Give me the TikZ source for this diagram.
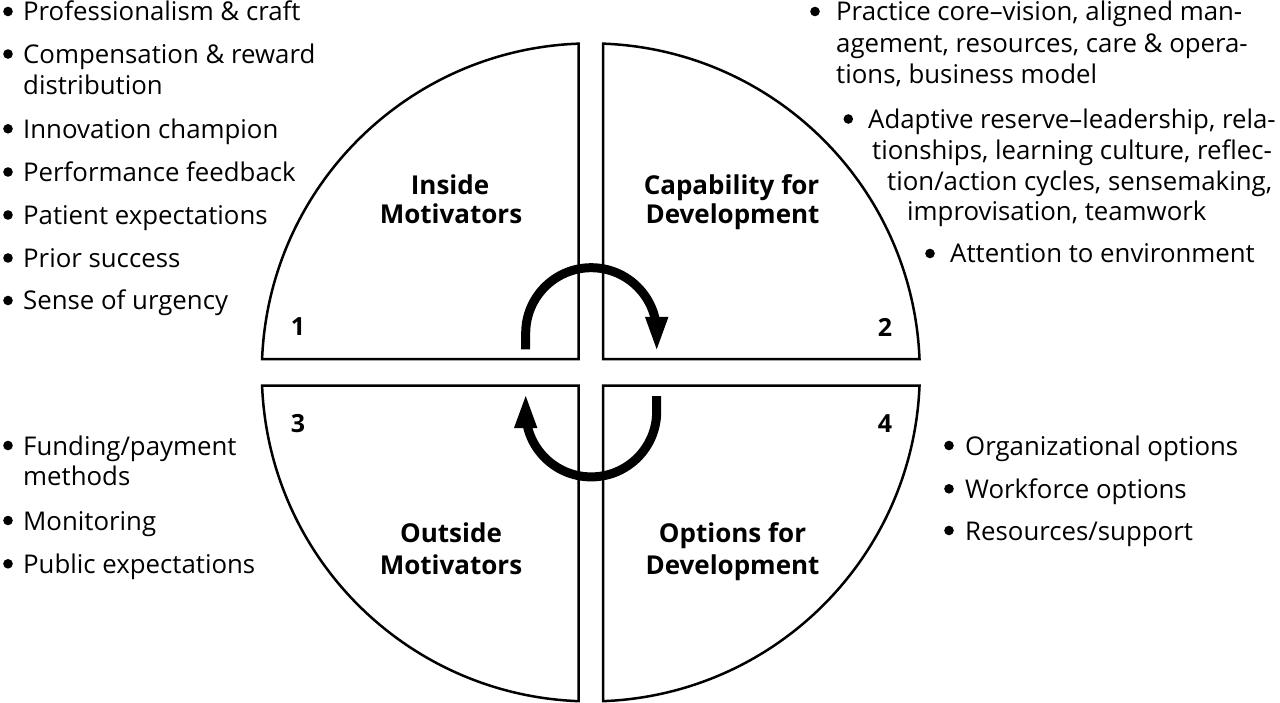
\documentclass[tikz,border=0pt]{standalone}
\usepackage{fontspec}
\setmainfont{Open Sans}
\begin{document}
\begin{tikzpicture}[x=1pt,y=-1pt,
  quad/.style={line width=2.5pt, line join=miter},
  item/.style={anchor=base west, inner sep=0pt, font=\fontsize{25.8}{31}\selectfont},
  ttl/.style={anchor=base, inner sep=0pt, font=\fontsize{26}{31}\selectfont\bfseries},
  num/.style={anchor=center, inner sep=0pt, font=\fontsize{25}{31}\selectfont\bfseries},
  cyc/.style={line width=9pt, line cap=butt},
  head/.style={fill=black}]
\useasboundingbox (0,0) rectangle (1280,703);
\def\cx{590.8}\def\cy{372.4}\def\R{329}\def\gx{12.2}\def\gy{13.2}
\pgfmathsetmacro\ax{asin(\gx/\R)}
\pgfmathsetmacro\ay{asin(\gy/\R)}
% quadrants
\draw[quad] ({\cx-\gx},{\cy-\gy}) -- ({\cx+\R*cos(180+\ay)},{\cy+\R*sin(180+\ay)})
  arc[start angle={180+\ay}, end angle={270-\ax}, radius=\R] -- cycle;
\draw[quad] ({\cx+\gx},{\cy-\gy}) -- ({\cx+\R*cos(270+\ax)},{\cy+\R*sin(270+\ax)})
  arc[start angle={270+\ax}, end angle={360-\ay}, radius=\R] -- cycle;
\draw[quad] ({\cx+\gx},{\cy+\gy}) -- ({\cx+\R*cos(\ay)},{\cy+\R*sin(\ay)})
  arc[start angle={\ay}, end angle={90-\ax}, radius=\R] -- cycle;
\draw[quad] ({\cx-\gx},{\cy+\gy}) -- ({\cx+\R*cos(90+\ax)},{\cy+\R*sin(90+\ax)})
  arc[start angle={90+\ax}, end angle={180-\ay}, radius=\R] -- cycle;
% cycle arrows
\draw[cyc] (525.7,349.3) -- (525.7,333.2) arc[start angle=180, end angle=360, radius=65.5];
\fill[head] (645.0,317) -- (668.4,317) -- (656.7,349.3) -- cycle;
\draw[cyc] (656.7,396) -- (656.7,411.4) arc[start angle=0, end angle=180, radius=65.5];
\fill[head] (514.0,428) -- (537.4,428) -- (525.7,396) -- cycle;
% numbers
\node[num] (n1) at (298,327) {1};
\node[num] (n2) at (885,327) {2};
\node[num] (n3) at (298,423.5) {3};
\node[num] (n4) at (885,423.5) {4};
% titles
\node[ttl] (t1a) at (450,195) {Inside};
\node[ttl] (t1b) at (451,224) {Motivators};
\node[ttl] (t2a) at (731.5,195) {Capability for};
\node[ttl] (t2b) at (732.5,224) {Development};
\node[ttl] (t3a) at (451,542) {Outside};
\node[ttl] (t3b) at (451,574) {Motivators};
\node[ttl] (t4a) at (732.5,542) {Options for};
\node[ttl] (t4b) at (732.5,574) {Development};
% upper left list
\foreach \yy in {21,63.5,138.3,181.5,224.5,267.5,310,455,530,573.3}
  \fill (8,\yy-9.5) circle (4.8);
\node[item] (l1) at (23,21) {Professionalism \& craft};
\node[item] (l2) at (23,63.5) {Compensation \& reward};
\node[item] (l2b) at (23,95) {distribution};
\node[item] (l3) at (23,138.3) {Innovation champion};
\node[item] (l4) at (23,181.5) {Performance feedback};
\node[item] (l5) at (23,224.5) {Patient expectations};
\node[item] (l6) at (23,267.5) {Prior success};
\node[item] (l7) at (23,310) {Sense of urgency};
% lower left list
\node[item] (m1) at (23,455) {Funding/payment};
\node[item] (m1b) at (23,485.5) {methods};
\node[item] (m2) at (23,530) {Monitoring};
\node[item] (m3) at (23,573.3) {Public expectations};
% upper right list
\fill (815,21-9.5) circle (4.8);
\fill (848.3,128.5-9.5) circle (4.8);
\fill (930,263-9.5) circle (4.8);
\node[item] (r1) at (836,21) {Practice core–vision, aligned man-};
\node[item] (r1b) at (836,52.5) {agement, resources, care \& opera-};
\node[item] (r1c) at (836,83.5) {tions, business model};
\node[item] (r2) at (868,128.5) {Adaptive reserve–leadership, rela-};
\node[item] (r2b) at (872,159.5) {tionships, learning culture, reflec-};
\node[item] (r2c) at (887,190.5) {tion/action cycles, sensemaking,};
\node[item] (r2d) at (907,221) {improvisation, teamwork};
\node[item] (r3) at (950,263) {Attention to environment};
% lower right list
\foreach \yy in {455,498.3,540}
  \fill (949,\yy-9.5) circle (4.8);
\node[item] (s1) at (965,455) {Organizational options};
\node[item] (s2) at (965,498.3) {Workforce options};
\node[item] (s3) at (965,540) {Resources/support};
\end{tikzpicture}
\end{document}
